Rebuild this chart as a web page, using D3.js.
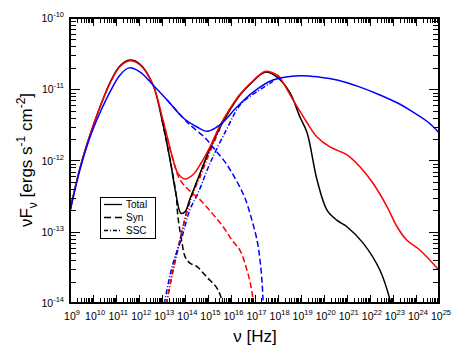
<!DOCTYPE html>
<html>
<head>
<meta charset="utf-8">
<script src="https://cdn.jsdelivr.net/npm/d3@7"></script>
<style>
  body { margin: 0; background: #fff; }
  svg { display: block; font-family: "Liberation Sans", Arial, sans-serif; }
</style>
</head>
<body>
<div id="viz"></div>
<script>
'use strict';

// all series are [log10(nu / Hz), log10(nuFnu / erg s^-1 cm^-2)]
const totalBlack = [
  [9.00, -12.70], [9.43, -12.11], [9.87, -11.64], [10.30, -11.25], [10.73, -10.91],
  [11.17, -10.67], [11.60, -10.59], [12.04, -10.65], [12.60, -10.94], [12.99, -11.43],
  [13.34, -11.99], [13.60, -12.48], [13.81, -12.74], [13.99, -12.72], [14.20, -12.54],
  [14.64, -12.18], [15.07, -11.83], [15.50, -11.54], [15.94, -11.29], [16.37, -11.08],
  [16.81, -10.93], [17.46, -10.76], [17.98, -10.83], [18.54, -11.05], [18.97, -11.39],
  [19.28, -11.61], [19.71, -12.27], [20.15, -12.70], [20.58, -12.84], [21.01, -12.93],
  [21.71, -13.16], [22.44, -13.54], [22.88, -13.96], [23.10, -14.30]
];
const synBlack = [
  [12.99, -11.43], [13.34, -11.99], [13.60, -12.48], [13.68, -12.79], [13.86, -13.16],
  [13.99, -13.35], [14.20, -13.44], [14.51, -13.49], [14.94, -13.64], [15.37, -13.79],
  [15.59, -13.96], [15.77, -14.20]
];
const sscBlack = [
  [13.10, -14.15], [13.21, -13.96], [13.47, -13.54], [13.77, -13.12], [14.03, -12.76],
  [14.29, -12.48], [14.64, -12.19], [15.07, -11.84], [15.50, -11.55]
];

const totalRed = [
  [9.00, -12.70], [9.43, -12.11], [9.87, -11.64], [10.30, -11.25], [10.73, -10.92],
  [11.17, -10.68], [11.60, -10.60], [12.04, -10.66], [12.60, -10.94], [13.03, -11.43],
  [13.47, -11.99], [13.68, -12.18], [13.99, -12.26], [14.33, -12.20], [14.64, -12.06],
  [15.07, -11.81], [15.50, -11.51], [15.94, -11.27], [16.37, -11.07], [16.81, -10.92],
  [17.46, -10.75], [17.98, -10.80], [18.11, -10.84], [18.67, -11.15], [19.28, -11.47],
  [19.71, -11.67], [20.27, -11.81], [21.01, -11.92], [21.58, -12.09], [22.14, -12.32],
  [22.75, -12.65], [23.18, -12.93], [23.61, -13.12], [24.18, -13.26], [25.00, -13.54]
];
const synRed = [
  [13.03, -11.43], [13.47, -11.99], [13.77, -12.27], [14.20, -12.43], [14.64, -12.55],
  [15.16, -12.74], [15.64, -12.93], [16.03, -13.12], [16.37, -13.26], [16.63, -13.49],
  [16.81, -13.71], [16.94, -13.96], [17.02, -14.20]
];
const sscRed = [
  [13.10, -14.15], [13.21, -13.96], [13.47, -13.53], [13.77, -13.11], [14.03, -12.76],
  [14.29, -12.49], [14.64, -12.23], [15.07, -11.88], [15.50, -11.55]
];

const totalBlue = [
  [9.00, -12.72], [9.43, -12.13], [9.87, -11.67], [10.30, -11.33], [10.73, -11.04],
  [11.17, -10.80], [11.56, -10.70], [12.04, -10.76], [12.60, -10.94], [13.21, -11.15],
  [13.90, -11.40], [14.51, -11.53], [14.94, -11.59], [15.37, -11.53], [15.64, -11.46],
  [16.24, -11.25], [16.94, -11.04], [17.80, -10.87], [18.97, -10.81], [19.84, -10.83],
  [20.58, -10.87], [21.58, -10.97], [22.44, -11.08], [23.31, -11.21], [23.87, -11.32],
  [24.52, -11.46], [25.00, -11.61]
];
const synBlue = [
  [13.21, -11.15], [13.90, -11.40], [14.20, -11.50], [14.85, -11.68], [15.29, -11.85],
  [15.72, -12.02], [16.16, -12.25], [16.59, -12.53], [16.89, -12.84], [17.11, -13.12],
  [17.24, -13.40], [17.33, -13.72], [17.37, -13.96], [17.41, -14.20]
];
const sscBlue = [
  [13.05, -14.15], [13.12, -13.96], [13.47, -13.44], [13.86, -13.07], [14.20, -12.69],
  [14.55, -12.46], [15.07, -12.04], [15.81, -11.55], [16.37, -11.22], [16.81, -11.10],
  [17.80, -10.89]
];

const xDecades = d3.range(9, 26);   // 10^9 .. 10^25
const yDecades = d3.range(-14, -9); // 10^-14 .. 10^-10
const legendItems = ['Total', 'Syn', 'SSC'];

const W = 463, H = 358;
const plot = {left: 70, right: 439, top: 18, bottom: 303};

const svg = d3.select('#viz')
  .append('svg')
    .attr('width', W)
    .attr('height', H);

const x = d3.scaleLog()
  .domain([1e9, 1e25])
  .range([plot.left, plot.right]);

const y = d3.scaleLog()
  .domain([1e-14, 1e-10])
  .range([plot.bottom, plot.top]);

svg.append('clipPath')
    .attr('id', 'clip')
  .append('rect')
    .attr('x', plot.left)
    .attr('y', plot.top)
    .attr('width', plot.right - plot.left)
    .attr('height', plot.bottom - plot.top);

const line = d3.line()
  .curve(d3.curveCatmullRom.alpha(0.5))
  .x(d => x(Math.pow(10, d[0])))
  .y(d => y(Math.pow(10, d[1])));

const series = [
  {data: sscBlack, color: '#000', dash: '5,2,1,2'},
  {data: sscRed, color: '#ff0000', dash: '5,2,1,2'},
  {data: sscBlue, color: '#0000ff', dash: '5,2,1,2'},
  {data: synBlack, color: '#000', dash: '6,3'},
  {data: synRed, color: '#ff0000', dash: '6,3'},
  {data: synBlue, color: '#0000ff', dash: '6,3'},
  {data: totalBlack, color: '#000', dash: null},
  {data: totalRed, color: '#ff0000', dash: null},
  {data: totalBlue, color: '#0000ff', dash: null}
];

const curves = svg.append('g').attr('clip-path', 'url(#clip)');
for (const s of series) {
  curves.append('path')
    .datum(s.data)
    .attr('fill', 'none')
    .attr('stroke', s.color)
    .attr('stroke-width', 1.5)
    .attr('stroke-dasharray', s.dash)
    .attr('d', line);
}

// ticks on all four sides, pointing inward
const ticks = svg.append('g').attr('stroke', '#000').attr('stroke-width', 1);

for (const k of xDecades) {
  const vals = [{v: Math.pow(10, k), len: 8}];
  if (k < 25)
    for (let m = 2; m <= 9; m++) vals.push({v: m * Math.pow(10, k), len: 5});
  for (const t of vals) {
    const px = Math.round(x(t.v)) + 0.5;
    ticks.append('line').attr('x1', px).attr('x2', px)
      .attr('y1', plot.bottom).attr('y2', plot.bottom - t.len);
    ticks.append('line').attr('x1', px).attr('x2', px)
      .attr('y1', plot.top).attr('y2', plot.top + t.len);
  }
}

for (const k of yDecades) {
  const vals = [{v: Math.pow(10, k), len: 10}];
  if (k < -10)
    for (let m = 2; m <= 9; m++) vals.push({v: m * Math.pow(10, k), len: 6});
  for (const t of vals) {
    const py = Math.round(y(t.v)) + 0.5;
    ticks.append('line').attr('y1', py).attr('y2', py)
      .attr('x1', plot.left).attr('x2', plot.left + t.len);
    ticks.append('line').attr('y1', py).attr('y2', py)
      .attr('x1', plot.right).attr('x2', plot.right - t.len);
  }
}

// frame
svg.append('rect')
  .attr('x', plot.left)
  .attr('y', plot.top)
  .attr('width', plot.right - plot.left)
  .attr('height', plot.bottom - plot.top)
  .attr('fill', 'none')
  .attr('stroke', '#000')
  .attr('stroke-width', 2);

// tick labels "10^k"
for (const k of xDecades) {
  const t = svg.append('text')
    .attr('x', x(Math.pow(10, k)) + 2)
    .attr('y', plot.bottom + 17)
    .attr('text-anchor', 'middle')
    .attr('font-size', 10.5);
  t.append('tspan').text('10');
  t.append('tspan').attr('dy', -5).attr('font-size', 7.5).text(k);
}

for (const k of yDecades) {
  const t = svg.append('text')
    .attr('x', plot.left - 6)
    .attr('y', y(Math.pow(10, k)) + 4)
    .attr('text-anchor', 'end')
    .attr('font-size', 10.5);
  t.append('tspan').text('10');
  t.append('tspan').attr('dy', -5).attr('font-size', 7.5).text(k);
}

// axis titles
const xt = svg.append('text')
  .attr('x', 255)
  .attr('y', 342)
  .attr('text-anchor', 'middle')
  .attr('font-size', 17);
xt.append('tspan').text('\u03bd [Hz]');

const yt = svg.append('text')
  .attr('transform', 'translate(32,160) rotate(-90)')
  .attr('text-anchor', 'middle')
  .attr('font-size', 17);
yt.append('tspan').text('\u03bdF');
yt.append('tspan').attr('dy', 5).attr('font-size', 12).text('\u03bd');
yt.append('tspan').attr('dy', -5).text(' [ergs s');
yt.append('tspan').attr('dy', -7).attr('font-size', 12).text('-1');
yt.append('tspan').attr('dy', 7).text(' cm');
yt.append('tspan').attr('dy', -7).attr('font-size', 12).text('-2');
yt.append('tspan').attr('dy', 7).text(']');

// legend
const legend = svg.append('g');
legend.append('rect')
  .attr('x', 100.5).attr('y', 197.5)
  .attr('width', 55).attr('height', 41)
  .attr('fill', '#fff')
  .attr('stroke', '#000')
  .attr('stroke-width', 1);

const legendDash = [null, '7,4', '4,2,1,2'];
legendItems.forEach((name, i) => {
  const cy = 204.5 + i * 13;
  legend.append('line')
    .attr('x1', 104).attr('x2', 122)
    .attr('y1', cy).attr('y2', cy)
    .attr('stroke', '#000')
    .attr('stroke-width', 1.3)
    .attr('stroke-dasharray', legendDash[i]);
  legend.append('text')
    .attr('x', 126)
    .attr('y', cy + 3.5)
    .attr('font-size', 10)
    .text(name);
});
</script>
</body>
</html>
